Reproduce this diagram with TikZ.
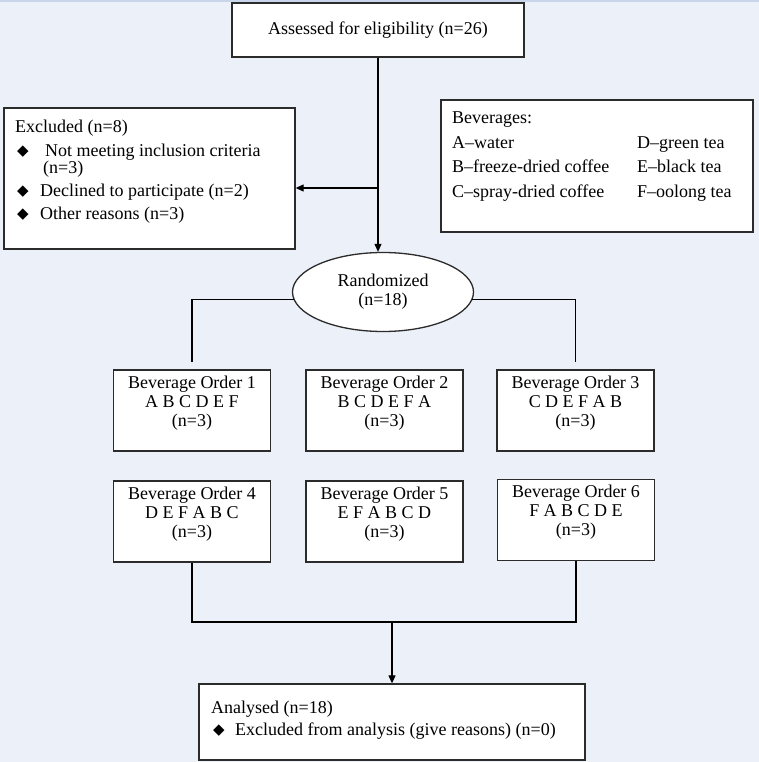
\documentclass[tikz,border=0pt]{standalone}
\usepackage{fontspec}
\setmainfont{Liberation Serif}
\newfontfamily\symfont{DejaVu Sans}
\usetikzlibrary{shapes.geometric,arrows.meta}

\definecolor{pagebg}{HTML}{ECF1F9}
\definecolor{pagetop}{HTML}{C9D5EA}
\definecolor{boxline}{HTML}{2B2B2B}

% bullet used in the lists
\newcommand{\bul}{\makebox[11pt][l]{\raisebox{0.5pt}{\symfont\fontsize{15}{15}\selectfont ◆}}}

\tikzset{
  box/.style={draw=boxline, line width=1.3pt, fill=white, inner sep=0pt},
  txt/.style={inner sep=0pt, align=left},
  link/.style={line width=1.1pt, black},
  arrow/.style={link, -{Triangle[length=8pt,width=7pt]}}
}

\begin{document}
\begin{tikzpicture}[x=1pt,y=-1pt,font=\rmfamily\fontsize{18}{19}\selectfont]
% page
\fill[pagebg] (0,0) rectangle (759,762);
\fill[pagetop] (0,0) rectangle (759,2.5);
\useasboundingbox (0,0) rectangle (759,762);

% enrolment
\node[box, minimum width=292, minimum height=54] (assess) at (378,30) {Assessed for eligibility (n=26)};

\node[box, minimum width=291, minimum height=141] (excl) at (149.5,178.5) {};
\node[txt, anchor=north west] (excltxt) at (15,119.5) {Excluded (n=8)\\[5pt]
\hspace*{2pt}\bul\hspace*{17pt}Not meeting inclusion criteria\\[-2pt]
\hspace*{28pt}(n=3)\\[4pt]
\hspace*{2pt}\bul\hspace*{12pt}Declined to participate (n=2)\\[4pt]
\hspace*{2pt}\bul\hspace*{12pt}Other reasons (n=3)};

\node[box, minimum width=312, minimum height=132] (bev) at (597,166) {};
\node[txt, anchor=north west] (bevtxt) at (452,112) {Beverages:\\[5.5pt]
\makebox[185pt][l]{A–water}D–green tea\\[5.5pt]
\makebox[185pt][l]{B–freeze-dried coffee}E–black tea\\[5.5pt]
\makebox[185pt][l]{C–spray-dried coffee}F–oolong tea};

\node[ellipse, draw=boxline, line width=1.3pt, fill=white, inner sep=0pt,
  minimum width=181, minimum height=79, align=center] (rand) at (383,292) {Randomized\\(n=18)};

\coordinate (split) at (378,188);
\draw[arrow] (assess.south) -- (assess.south |- rand.north);
\draw[arrow] (split) -- (split -| excl.east);

% allocation: six beverage orders
\node[box, minimum width=157, minimum height=81] (o1) at (192,410.5) {};
\node[txt, align=center, below=6pt] (o1txt) at (o1.north) {Beverage Order 1\\A B C D E F\hspace*{10pt}\\(n=3)};
\node[box, minimum width=157, minimum height=81] (o2) at (384.5,410.5) {};
\node[txt, align=center, below=6pt] (o2txt) at (o2.north) {Beverage Order 2\\B C D E F A\hspace*{10pt}\\(n=3)};
\node[box, minimum width=157, minimum height=81] (o3) at (575.5,410.5) {};
\node[txt, align=center, below=6pt] (o3txt) at (o3.north) {Beverage Order 3\\C D E F A B\hspace*{10pt}\\(n=3)};

\node[box, minimum width=157, minimum height=81] (o4) at (192,521.5) {};
\node[txt, align=center, below=6pt] (o4txt) at (o4.north) {Beverage Order 4\\D E F A B C\hspace*{10pt}\\(n=3)};
\node[box, minimum width=157, minimum height=81] (o5) at (384.5,521.5) {};
\node[txt, align=center, below=6pt] (o5txt) at (o5.north) {Beverage Order 5\\E F A B C D\hspace*{10pt}\\(n=3)};
\node[box, minimum width=157, minimum height=81] (o6) at (576,520) {};
\node[txt, align=center, below=6pt] (o6txt) at (o6.north) {Beverage Order 6\\F A B C D E\hspace*{10pt}\\(n=3)};

\draw[link] (rand.185) -| ([yshift=7pt]o1.north);
\draw[link] (rand.355) -| ([yshift=7pt]o3.north);

% analysis
\node[box, minimum width=386, minimum height=76] (anal) at (392,722) {};
\node[txt, anchor=north west] (analtxt) at (211,700.5) {Analysed (n=18)\\[3pt]
\hspace*{2pt}\bul\hspace*{11pt}Excluded from analysis (give reasons) (n=0)};

\coordinate (merge) at (392,622);
\draw[link] (o4.south) |- (merge) -| (o6.south);
\draw[arrow] (merge) -- (anal.north);
\end{tikzpicture}
\end{document}
